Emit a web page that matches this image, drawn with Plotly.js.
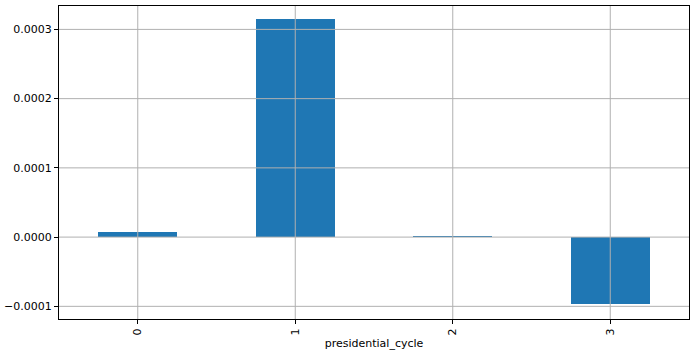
<!DOCTYPE html>
<html>
<head>
<meta charset="utf-8">
<script src="https://cdn.plot.ly/plotly-3.0.1.min.js"></script>
<style>html,body{margin:0;padding:0;background:#fff;}#chart{width:694px;height:351px;}</style>
</head>
<body>
<div id="chart"></div>
<script>
const categories = ["0", "1", "2", "3"];
const values = [0.0000077, 0.0003146, 0.0000019, -0.0000967];
const yTickVals = [-0.0001, 0.0000, 0.0001, 0.0002, 0.0003];
const xLabel = "presidential_cycle";

const gridColor = "#b0b0b0";
const shapes = [];
yTickVals.forEach(v => shapes.push({type:"line", xref:"paper", yref:"y", x0:0, x1:1, y0:v, y1:v, layer:"above", line:{color:gridColor, width:1}}));
categories.forEach(c => shapes.push({type:"line", xref:"x", yref:"paper", x0:c, x1:c, y0:0, y1:1, layer:"above", line:{color:gridColor, width:1}}));

const trace = {
  type: "bar",
  x: categories,
  y: values,
  width: 0.5,
  marker: {color: "#1f77b4", line: {width: 0}},
  hoverinfo: "skip"
};

const layout = {
  width: 694, height: 351,
  margin: {l: 59, r: 5, t: 6, b: 32},
  paper_bgcolor: "#fff", plot_bgcolor: "#fff",
  font: {family: "DejaVu Sans", size: 11, color: "#000"},
  showlegend: false,
  bargap: 0,
  xaxis: {
    type: "category",
    range: [-0.5, 3.5],
    tickangle: -90,
    ticks: "outside", ticklen: 4, tickwidth: 1, tickcolor: "#000",
    showgrid: false, zeroline: false,
    showline: true, linecolor: "#000", linewidth: 1, mirror: true,
    title: {text: xLabel, font: {size: 11, color: "#000"}, standoff: 4}
  },
  yaxis: {
    range: [-0.0001183, 0.0003338],
    tickvals: yTickVals,
    tickformat: ".4f",
    ticks: "outside", ticklen: 4, tickwidth: 1, tickcolor: "#000",
    showgrid: false, zeroline: false,
    showline: true, linecolor: "#000", linewidth: 1, mirror: true
  },
  shapes: shapes
};

Plotly.newPlot("chart", [trace], layout, {displayModeBar: false, staticPlot: true});
</script>
</body>
</html>
